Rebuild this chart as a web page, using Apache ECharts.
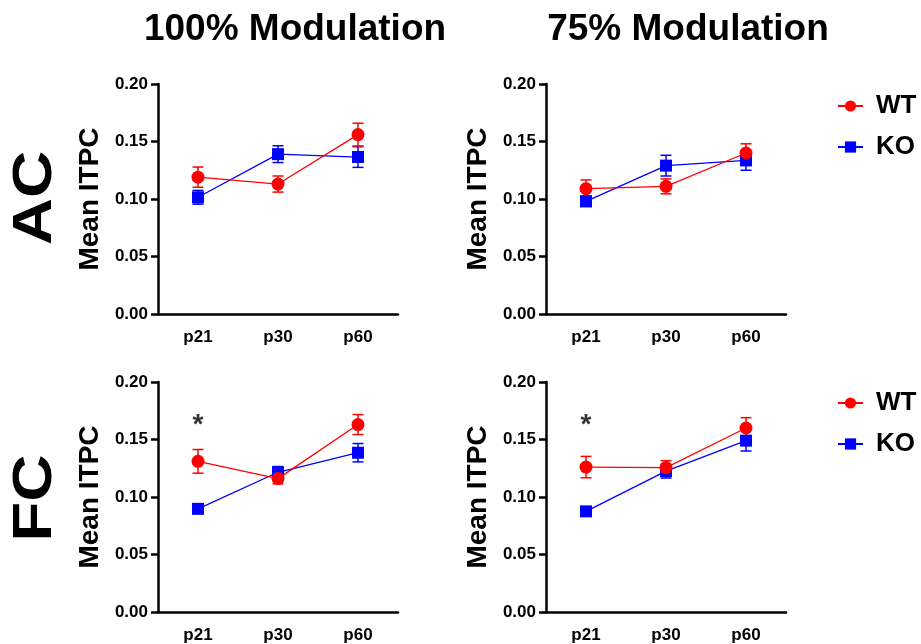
<!DOCTYPE html>
<html><head><meta charset="utf-8">
<script src="https://cdn.jsdelivr.net/npm/echarts@6/dist/echarts.min.js"></script>
<style>html,body{margin:0;padding:0;background:#fff}#c{width:921px;height:644px}</style>
</head><body><div id="c"></div>
<script>
const categories = ['p21', 'p30', 'p60'];
const columnTitles = ['100% Modulation', '75% Modulation'];
const rowTitles = ['AC', 'FC'];
const seriesNames = ['WT', 'KO'];

// AC, 100%
const ac100WT = [0.119, 0.113, 0.156];
const ac100WTErr = [0.0088, 0.007, 0.0099];
const ac100KO = [0.1015, 0.139, 0.1365];
const ac100KOErr = [0.006, 0.0073, 0.009];
// AC, 75%
const ac75WT = [0.109, 0.111, 0.140];
const ac75WTErr = [0.0076, 0.0065, 0.008];
const ac75KO = [0.098, 0.129, 0.1335];
const ac75KOErr = [0.0045, 0.009, 0.0085];
// FC, 100%
const fc100WT = [0.131, 0.116, 0.163];
const fc100WTErr = [0.0103, 0.0045, 0.0087];
const fc100KO = [0.0897, 0.1215, 0.1385];
const fc100KOErr = [0.002, 0.005, 0.008];
// FC, 75%
const fc75WT = [0.126, 0.1256, 0.160];
const fc75WTErr = [0.0093, 0.006, 0.009];
const fc75KO = [0.0875, 0.1225, 0.149];
const fc75KOErr = [0.002, 0.006, 0.009];
// significance marks: [category index, y value]
const starFC100 = [0, 0.1665];
const starFC75 = [0, 0.1665];

const FONT = '"Liberation Sans", Arial, sans-serif';
const RED = '#ff0000', BLUE = '#0000ff';

const panels = [
  {wt: ac100WT, wtE: ac100WTErr, ko: ac100KO, koE: ac100KOErr, star: null},
  {wt: ac75WT, wtE: ac75WTErr, ko: ac75KO, koE: ac75KOErr, star: null},
  {wt: fc100WT, wtE: fc100WTErr, ko: fc100KO, koE: fc100KOErr, star: starFC100},
  {wt: fc75WT, wtE: fc75WTErr, ko: fc75KO, koE: fc75KOErr, star: starFC75}
];
const gridPos = [
  {left: 158, top: 84, width: 240, height: 230},
  {left: 546, top: 84, width: 240, height: 230},
  {left: 158, top: 382, width: 240, height: 230},
  {left: 546, top: 382, width: 240, height: 230}
];

function errRenderer(color) {
  return function (params, api) {
    const x = api.value(0), lo = api.value(1), hi = api.value(2);
    const a = api.coord([x, hi]), b = api.coord([x, lo]);
    const w = 5.5;
    const st = {stroke: color, lineWidth: 1.5};
    return {type: 'group', children: [
      {type: 'line', shape: {x1: a[0], y1: a[1], x2: b[0], y2: b[1]}, style: st},
      {type: 'line', shape: {x1: a[0] - w, y1: a[1], x2: a[0] + w, y2: a[1]}, style: st},
      {type: 'line', shape: {x1: b[0] - w, y1: b[1], x2: b[0] + w, y2: b[1]}, style: st}
    ]};
  };
}
function errData(vals, errs) {
  return vals.map((v, i) => [i, v - errs[i], v + errs[i]]);
}

const grid = gridPos.map(g => Object.assign({containLabel: false}, g));
const xAxis = gridPos.map((g, i) => ({
  type: 'category', gridIndex: i, data: categories, boundaryGap: true,
  axisLine: {lineStyle: {color: '#000', width: 2.5}},
  axisTick: {alignWithLabel: true, length: 7, lineStyle: {color: '#000', width: 2.5}},
  axisLabel: {color: '#000', fontFamily: FONT, fontWeight: 'bold', fontSize: 17, margin: 15},
  splitLine: {show: false}
}));
const yAxis = gridPos.map((g, i) => ({
  type: 'value', gridIndex: i, min: 0, max: 0.2, interval: 0.05,
  name: 'Mean ITPC', nameLocation: 'middle', nameGap: 54,
  nameTextStyle: {color: '#000', fontFamily: FONT, fontWeight: 'bold', fontSize: 28},
  axisLine: {show: true, lineStyle: {color: '#000', width: 2.5}},
  axisTick: {show: true, length: 7, lineStyle: {color: '#000', width: 2.5}},
  axisLabel: {color: '#000', fontFamily: FONT, fontWeight: 'bold', fontSize: 17, margin: 10,
    formatter: v => v.toFixed(2)},
  splitLine: {show: false}
}));

const series = [];
panels.forEach((p, i) => {
  series.push({type: 'custom', name: 'KO err', xAxisIndex: i, yAxisIndex: i,
    renderItem: errRenderer(BLUE), data: errData(p.ko, p.koE), encode: {x: 0, y: [1, 2]}, z: 2, silent: true});
  series.push({type: 'custom', name: 'WT err', xAxisIndex: i, yAxisIndex: i,
    renderItem: errRenderer(RED), data: errData(p.wt, p.wtE), encode: {x: 0, y: [1, 2]}, z: 2, silent: true});
  series.push({type: 'line', name: 'KO', xAxisIndex: i, yAxisIndex: i, data: p.ko,
    symbol: 'rect', symbolSize: 12, color: BLUE, lineStyle: {color: BLUE, width: 1.3}, z: 3});
  series.push({type: 'line', name: 'WT', xAxisIndex: i, yAxisIndex: i, data: p.wt,
    symbol: 'circle', symbolSize: 13, color: RED, lineStyle: {color: RED, width: 1.3}, z: 4});
  if (p.star) {
    series.push({type: 'scatter', name: 'sig', xAxisIndex: i, yAxisIndex: i, data: [p.star],
      symbolSize: 0, silent: true,
      label: {show: true, position: 'inside', formatter: '*', color: '#000',
        fontFamily: FONT, fontWeight: 'bold', fontSize: 28, offset: [0, 5]}});
  }
});

const legendCommon = {
  orient: 'vertical', data: seriesNames, itemWidth: 25, itemHeight: 14, itemGap: 15,
  textStyle: {color: '#000', fontFamily: FONT, fontWeight: 'bold', fontSize: 26, padding: [0, 0, 0, 8]},
  selectedMode: false
};

const option = {
  backgroundColor: '#fff',
  animation: false,
  title: [
    {text: columnTitles[0], left: 290, top: 6, textAlign: 'center',
      textStyle: {fontFamily: FONT, fontWeight: 'bold', fontSize: 37, color: '#000'}},
    {text: columnTitles[1], left: 683, top: 6, textAlign: 'center',
      textStyle: {fontFamily: FONT, fontWeight: 'bold', fontSize: 37, color: '#000'}}
  ],
  legend: [
    Object.assign({left: 832, top: 88}, legendCommon),
    Object.assign({left: 832, top: 385}, legendCommon)
  ],
  graphic: [
    {type: 'text', x: 36, y: 198, rotation: Math.PI / 2, scaleX: 1.17,
      style: {text: rowTitles[0], fill: '#000', font: 'bold 56px ' + FONT, textAlign: 'center', textVerticalAlign: 'middle'}},
    {type: 'text', x: 36, y: 498, rotation: Math.PI / 2, scaleX: 1.17,
      style: {text: rowTitles[1], fill: '#000', font: 'bold 56px ' + FONT, textAlign: 'center', textVerticalAlign: 'middle'}}
  ],
  grid: grid, xAxis: xAxis, yAxis: yAxis, series: series
};
const chart = echarts.init(document.getElementById('c'), null, {renderer: 'canvas'});
chart.setOption(option);
</script></body></html>
